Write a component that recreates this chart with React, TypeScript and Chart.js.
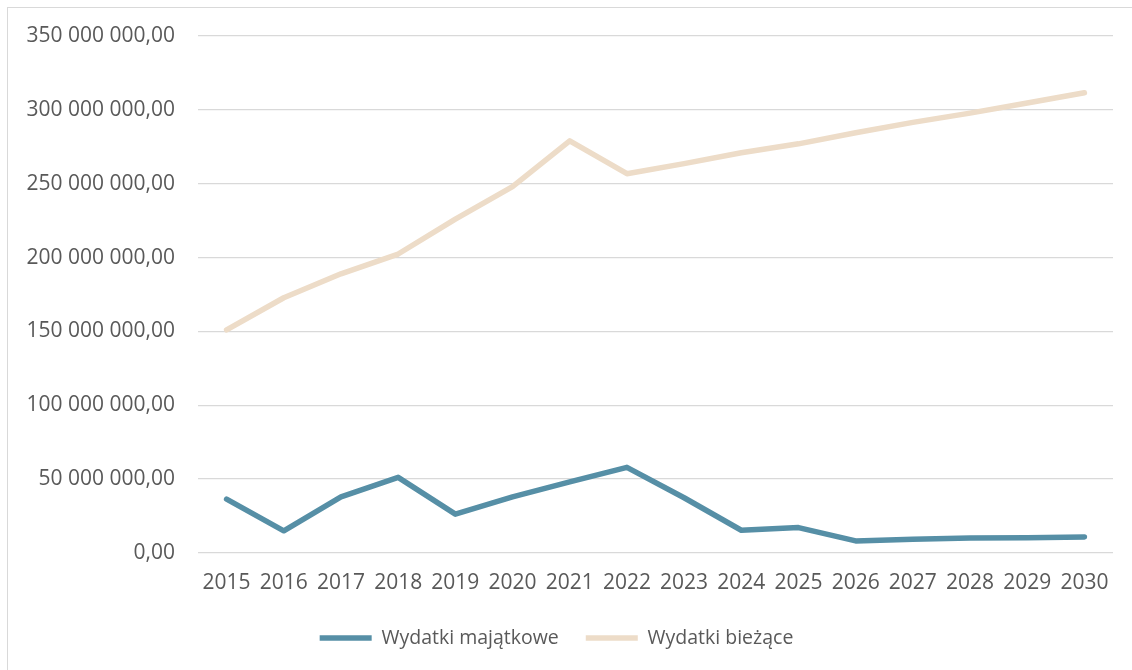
import React, { useEffect, useRef } from "react";
import { Chart, registerables } from "chart.js";

Chart.register(...registerables);

const years = [
  "2015", "2016", "2017", "2018", "2019", "2020", "2021", "2022",
  "2023", "2024", "2025", "2026", "2027", "2028", "2029", "2030",
];

const wydatkiMajatkowe = [
  36500000, 15000000, 38000000, 51200000, 26300000, 38000000, 48200000, 58000000,
  37400000, 15400000, 17200000, 8200000, 9300000, 10200000, 10300000, 10900000,
];

const wydatkiBiezace = [
  151000000, 172800000, 189000000, 202400000, 226000000, 248000000, 279000000, 256800000,
  263600000, 271000000, 277000000, 284500000, 291500000, 297800000, 304600000, 311600000,
];

const yMin = 0;
const yMax = 350000000;
const yStep = 50000000;

const seriesNames = ["Wydatki majątkowe", "Wydatki bieżące"];

const fmt = (v: number) =>
  Math.round(v).toString().replace(/\B(?=(\d{3})+(?!\d))/g, " ") + ",00";

export default function App() {
  const ref = useRef<HTMLCanvasElement | null>(null);

  useEffect(() => {
    document.body.style.margin = "0";
    document.body.style.overflow = "hidden";
    const axisFont = { family: "'Open Sans', sans-serif", size: 21 };
    const legendFont = { family: "'Open Sans', sans-serif", size: 19.5 };
    const chart = new Chart(ref.current as HTMLCanvasElement, {
      type: "line",
      data: {
        labels: years,
        datasets: [
          {
            label: seriesNames[0],
            data: wydatkiMajatkowe,
            borderColor: "#568FA6",
            backgroundColor: "#568FA6",
            borderWidth: 5.5,
            borderCapStyle: "round",
            borderJoinStyle: "round",
            pointRadius: 0,
            pointStyle: "line",
            tension: 0,
          },
          {
            label: seriesNames[1],
            data: wydatkiBiezace,
            borderColor: "#EDDCC8",
            backgroundColor: "#EDDCC8",
            borderWidth: 5.5,
            borderCapStyle: "round",
            borderJoinStyle: "round",
            pointRadius: 0,
            pointStyle: "line",
            tension: 0,
          },
        ],
      },
      options: {
        animation: false,
        responsive: true,
        maintainAspectRatio: false,
        layout: { padding: { top: 36, right: 19, bottom: 12.25, left: 0 } },
        plugins: {
          tooltip: { enabled: false },
          legend: {
            position: "bottom",
            labels: {
              usePointStyle: true,
              pointStyleWidth: 52,
              boxHeight: 6,
              padding: 27,
              color: "#595959",
              font: legendFont,
            },
          },
        },
        scales: {
          x: {
            offset: true,
            grid: { display: false, drawTicks: false },
            border: { display: false },
            afterFit: (scale: any) => {
              scale.height = 48.25;
            },
            ticks: {
              color: "#595959",
              font: axisFont,
              padding: 17.4,
              maxRotation: 0,
              autoSkip: false,
            },
          },
          y: {
            min: yMin,
            max: yMax,
            grid: { color: "#D9D9D9", lineWidth: 1.3, drawTicks: false },
            border: { display: false },
            afterFit: (scale: any) => {
              scale.width = 198;
            },
            ticks: {
              stepSize: yStep,
              color: "#595959",
              font: axisFont,
              padding: 23,
              callback: (v: any) => fmt(Number(v)),
            },
          },
        },
      },
    });
    return () => chart.destroy();
  }, []);

  return (
    <div
      style={{
        position: "fixed",
        left: 0,
        top: 0,
        width: 1132,
        height: 670,
        overflow: "hidden",
        background: "#fff",
      }}
    >
      <div
        style={{
          position: "absolute",
          left: 7,
          top: 7,
          width: 1200,
          height: 720,
          border: "1.3px solid #D9D9D9",
          boxSizing: "border-box",
        }}
      />
      <div style={{ position: "absolute", left: 0, top: 0, width: 1132, height: 670 }}>
        <canvas ref={ref} />
      </div>
    </div>
  );
}
